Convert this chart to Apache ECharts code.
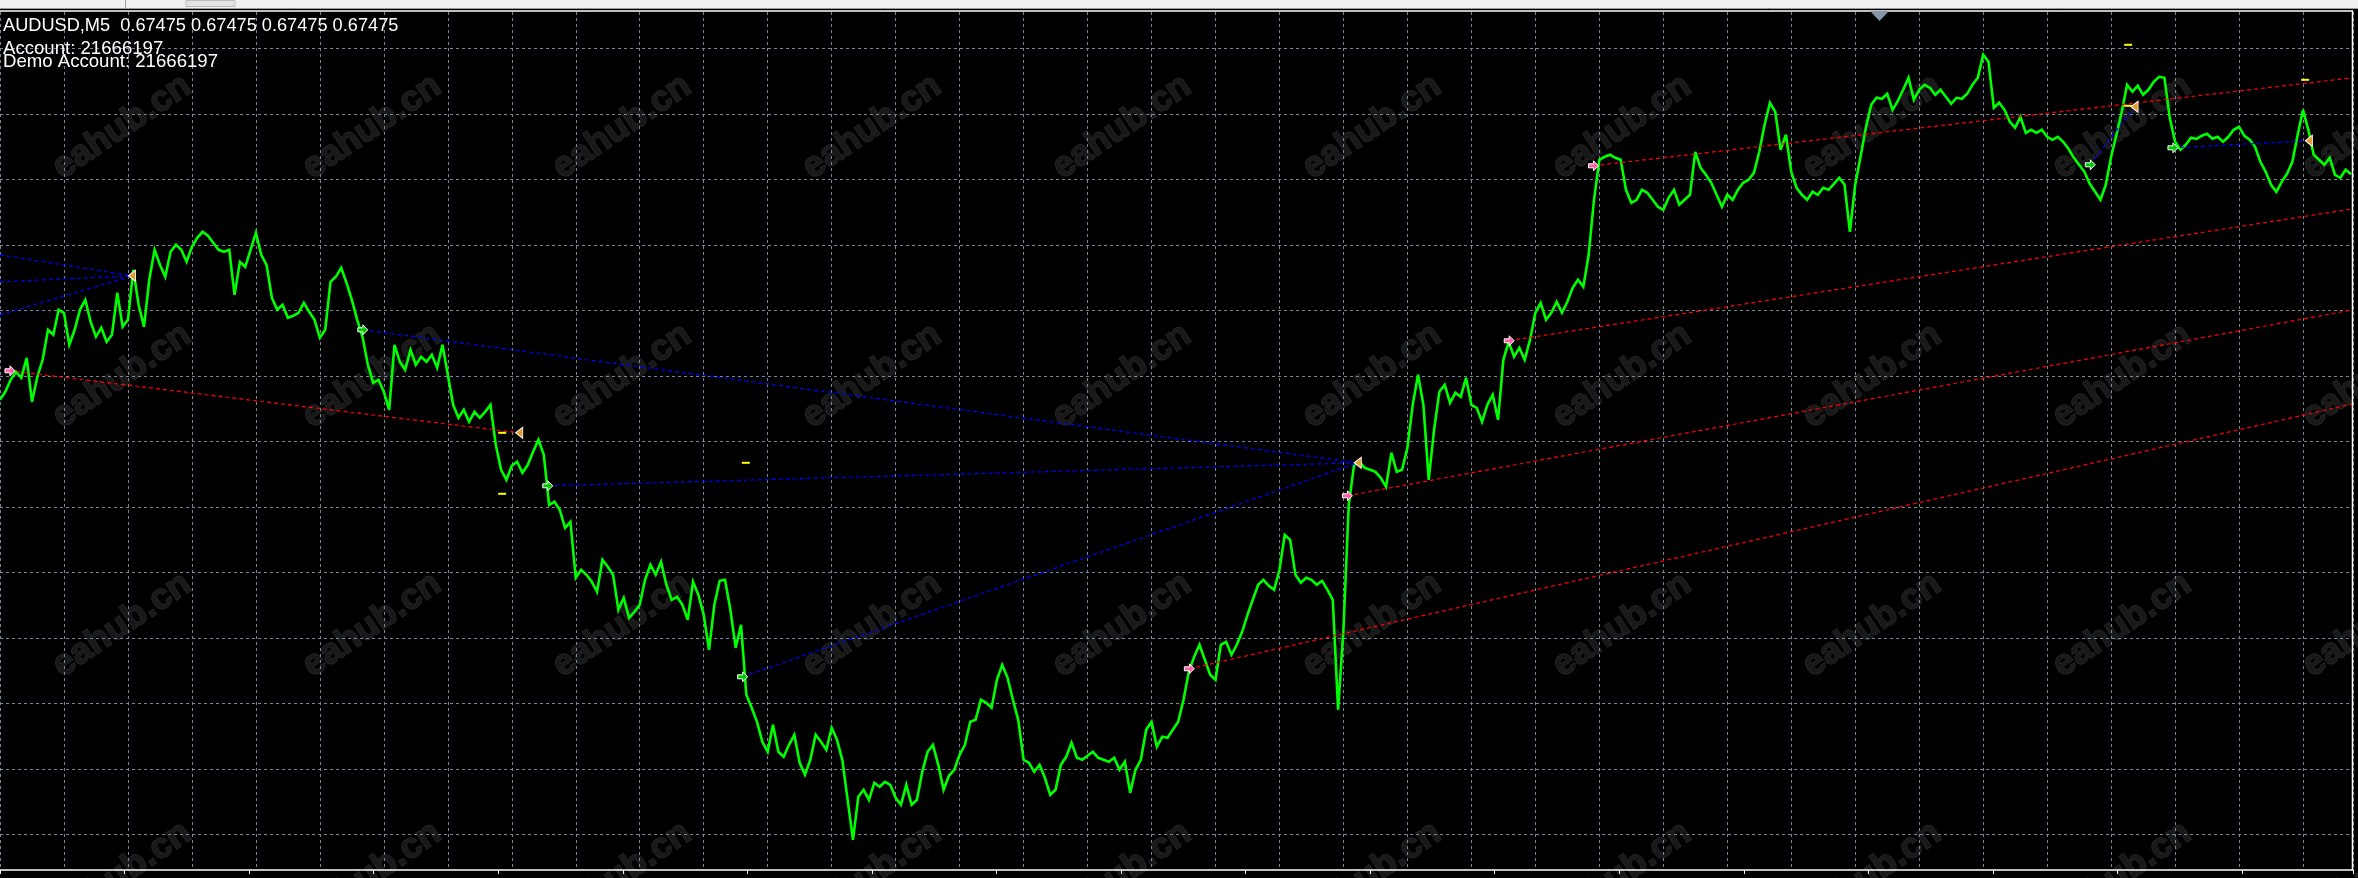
<!DOCTYPE html>
<html><head><meta charset="utf-8">
<script src="https://cdn.jsdelivr.net/npm/echarts@6/dist/echarts.min.js"></script>
<style>html,body{margin:0;padding:0;background:#000;overflow:hidden}#c{width:2358px;height:878px}</style>
</head><body><div id="c"></div>
<script>
// ---------- header texts ----------
const symbolName = 'AUDUSD,M5';
const lastQuote = ['0.67475', '0.67475', '0.67475', '0.67475'];
const accountLines = ['Account: 21666197', 'Demo Account: 21666197'];
const watermarkText = 'eahub.cn';

// ---------- close prices, one per bar (left to right) ----------
const closeA = [0.67024,0.67040,0.67064,0.67080,0.67068,0.67108,0.67020,0.67070,0.67104,0.67164,
0.67154,0.67204,0.67198,0.67134,0.67164,0.67204,0.67224,0.67180,0.67150,0.67168,
0.67140,0.67154,0.67238,0.67170,0.67184,0.67284,0.67214,0.67170,0.67264,0.67324,
0.67294,0.67270,0.67320,0.67334,0.67324,0.67300,0.67330,0.67348,0.67360,0.67352,
0.67338,0.67324,0.67320,0.67324,0.67234,0.67300,0.67290,0.67324,0.67358,0.67314,
0.67294,0.67228,0.67204,0.67214,0.67188,0.67192,0.67198,0.67218,0.67200,0.67184,
0.67148,0.67164,0.67260,0.67270,0.67288,0.67258,0.67224,0.67184,0.67150,0.67094,
0.67058,0.67064,0.67040,0.67004];
const closeB = [0.67134,0.67100,0.67084,0.67124,0.67094,0.67110,0.67100,0.67114,0.67088,0.67134,
0.67074,0.67014,0.66988,0.67004,0.66980,0.67000,0.66988,0.67000,0.67014,0.66934,
0.66884,0.66864,0.66892,0.66900,0.66878,0.66894,0.66920,0.66944,0.66914,0.66814,
0.66820,0.66804,0.66768,0.66780,0.66668,0.66684,0.66674,0.66660,0.66640,0.66704,
0.66690,0.66674,0.66604,0.66628,0.66588,0.66600,0.66614,0.66664,0.66694,0.66674,
0.66700,0.66654,0.66624,0.66630,0.66614,0.66584,0.66660,0.66634,0.66594,0.66524,
0.66614,0.66662,0.66664,0.66604,0.66528,0.66574,0.66434,0.66408,0.66380,0.66340,
0.66320,0.66374,0.66320,0.66310];
const closeC = [0.66334,0.66354,0.66298,0.66274,0.66304,0.66354,0.66340,0.66324,0.66368,0.66344,
0.66304,0.66224,0.66144,0.66230,0.66244,0.66224,0.66258,0.66250,0.66260,0.66254,
0.66228,0.66214,0.66254,0.66214,0.66224,0.66280,0.66320,0.66334,0.66294,0.66244,
0.66272,0.66284,0.66314,0.66334,0.66380,0.66384,0.66424,0.66418,0.66408,0.66464,
0.66494,0.66468,0.66424,0.66384,0.66304,0.66298,0.66280,0.66294,0.66268,0.66234,
0.66244,0.66294,0.66310,0.66338,0.66308,0.66304,0.66312,0.66320,0.66308,0.66304,
0.66300,0.66308,0.66284,0.66300,0.66238,0.66284,0.66304,0.66364,0.66380,0.66330,
0.66350,0.66348,0.66364,0.66380];
const closeD = [0.66424,0.66480,0.66510,0.66534,0.66504,0.66474,0.66464,0.66534,0.66540,0.66514,
0.66534,0.66560,0.66594,0.66624,0.66654,0.66664,0.66652,0.66644,0.66684,0.66754,
0.66744,0.66674,0.66658,0.66668,0.66664,0.66654,0.66662,0.66644,0.66624,0.66404,
0.66564,0.66814,0.66894,0.66900,0.66888,0.66884,0.66880,0.66868,0.66850,0.66918,
0.66880,0.66884,0.66928,0.67014,0.67074,0.67014,0.66864,0.66964,0.67040,0.67054,
0.67018,0.67038,0.67030,0.67068,0.67014,0.67008,0.66980,0.67014,0.67034,0.66984,
0.67104,0.67140,0.67110,0.67128,0.67104,0.67144,0.67198,0.67218,0.67184,0.67198,
0.67220,0.67198,0.67220,0.67248];
const closeE = [0.67264,0.67250,0.67314,0.67424,0.67504,0.67510,0.67514,0.67508,0.67504,0.67444,
0.67418,0.67424,0.67444,0.67438,0.67424,0.67410,0.67404,0.67428,0.67444,0.67414,
0.67424,0.67434,0.67520,0.67488,0.67474,0.67458,0.67434,0.67410,0.67434,0.67424,
0.67444,0.67458,0.67464,0.67478,0.67520,0.67574,0.67618,0.67600,0.67524,0.67554,
0.67480,0.67448,0.67434,0.67424,0.67440,0.67434,0.67448,0.67444,0.67456,0.67468,
0.67454,0.67360,0.67454,0.67510,0.67568,0.67614,0.67628,0.67626,0.67636,0.67604,
0.67622,0.67644,0.67668,0.67624,0.67644,0.67654,0.67648,0.67634,0.67644,0.67630,
0.67616,0.67628,0.67626,0.67636];
const closeF = [0.67654,0.67668,0.67714,0.67700,0.67608,0.67618,0.67604,0.67580,0.67568,0.67590,
0.67558,0.67564,0.67558,0.67564,0.67550,0.67544,0.67550,0.67540,0.67526,0.67508,
0.67494,0.67480,0.67456,0.67440,0.67424,0.67454,0.67510,0.67554,0.67600,0.67654,
0.67640,0.67652,0.67634,0.67644,0.67660,0.67670,0.67668,0.67588,0.67540,0.67524,
0.67534,0.67548,0.67546,0.67552,0.67556,0.67546,0.67550,0.67540,0.67550,0.67564,
0.67570,0.67552,0.67544,0.67530,0.67500,0.67480,0.67454,0.67440,0.67460,0.67476,
0.67500,0.67554,0.67604,0.67564,0.67514,0.67504,0.67494,0.67508,0.67474,0.67468,
0.67484,0.67475];

// ---------- objects: [barIndex, price] ----------
const blueTrendLines = [
  [[0, 0.67314], [24.75, 0.67272]],
  [[0, 0.67260], [24.75, 0.67272]],
  [[0, 0.67194], [24.75, 0.67272]],
  [[68.06, 0.67164], [254.7, 0.66898]],
  [[102.75, 0.66852], [254.7, 0.66898]],
  [[139.3, 0.66470], [254.7, 0.66898]],
  [[392.1, 0.67494], [400.4, 0.67610]],
  [[407.6, 0.67528], [433.1, 0.67542]]
];
const redTrendLines = [
  [[1.875, 0.67082], [97.4, 0.66958]],
  [[223.1, 0.66486], [441.375, 0.67016]],
  [[252.75, 0.66832], [441.375, 0.67204]],
  [[283.1, 0.67142], [441.375, 0.67406]],
  [[298.9, 0.67492], [441.375, 0.67668]]
];
const pinkArrows = [[1.875, 0.67082], [223.1, 0.66486], [252.75, 0.66832], [283.1, 0.67142], [298.9, 0.67492]];
const greenArrows = [[68.06, 0.67164], [102.75, 0.66852], [139.3, 0.66470], [392.1, 0.67494], [407.6, 0.67528]];
const closeTriangles = [[24.75, 0.67272], [97.4, 0.66958], [254.7, 0.66898], [400.4, 0.67610], [433.1, 0.67542]];
const yellowLevels = [[94.2, 0.66958], [94.2, 0.66836], [139.9, 0.66898], [399.2, 0.67734], [432.4, 0.67664], [399.2, 0.67612]];

// ---------- axis config ----------
const X_MAX = 441.375, X_INT = 12;
const Y_MIN = 0.66155, Y_INT = 0.00131, Y_MAX = 0.67727;

const closes = [].concat(closeA, closeB, closeC, closeD, closeE, closeF);
const priceData = closes.map((v, i) => [i, v]);

const chart = echarts.init(document.getElementById('c'), null, {renderer: 'canvas', width: 2358, height: 878});
const gridLine = {color: '#778899', width: 1, type: [3, 3]};

const series = [{
  type: 'line', xAxisIndex: 0, yAxisIndex: 0, data: priceData, showSymbol: false, symbol: 'none',
  clip: false, z: 2, lineStyle: {color: '#00ff00', width: 2.6, join: 'miter', miterLimit: 4}
}];
blueTrendLines.forEach(seg => series.push({
  type: 'line', xAxisIndex: 0, yAxisIndex: 0, data: seg, symbol: 'none', clip: false, z: 3,
  lineStyle: {color: '#0000ff', width: 1.2, type: [4, 3]}
}));
redTrendLines.forEach(seg => series.push({
  type: 'line', xAxisIndex: 0, yAxisIndex: 0, data: seg, symbol: 'none', clip: false, z: 3,
  lineStyle: {color: '#ff0000', width: 1.2, type: [4, 3]}
}));
const arrowPath = 'path://M0,3L5,3L5,0L10,5L5,10L5,7L0,7Z';
series.push({type: 'scatter', xAxisIndex: 0, yAxisIndex: 0, data: pinkArrows, symbol: arrowPath, symbolSize: [10, 10], z: 5, clip: false,
  itemStyle: {color: '#ff5fa8', borderColor: '#ffffff', borderWidth: 1, opacity: 1}});
series.push({type: 'scatter', xAxisIndex: 0, yAxisIndex: 0, data: greenArrows, symbol: arrowPath, symbolSize: [10, 10], z: 5, clip: false,
  itemStyle: {color: '#00c800', borderColor: '#ffffff', borderWidth: 1, opacity: 1}});
series.push({type: 'scatter', xAxisIndex: 0, yAxisIndex: 0, data: closeTriangles, symbol: 'path://M10,0L0,5L10,10Z', symbolSize: [7, 11], z: 5, clip: false,
  itemStyle: {color: '#e39a2d', borderColor: '#ffffff', borderWidth: 1, opacity: 1}});
series.push({type: 'scatter', xAxisIndex: 0, yAxisIndex: 0, data: yellowLevels, symbol: 'rect', symbolSize: [8, 2], z: 5, clip: false,
  itemStyle: {color: '#ffff00', opacity: 1}});

const graphics = [];
// watermarks
for (let r = 0; r < 4; r++) for (let c = 0; c < 10; c++) {
  graphics.push({type: 'text', x: 122 + 250 * c, y: 127 + 249 * r, rotation: 0.593, z: 0, zlevel: 0, silent: true,
    style: {text: watermarkText, fill: '#191919', stroke: '#272727', lineWidth: 1.5,
      font: 'bold 36px "Liberation Sans"', align: 'center', verticalAlign: 'middle', textAlign: 'center', textVerticalAlign: 'middle'}});
}
// window chrome & borders
graphics.push({type: 'rect', z: 50, shape: {x: 0, y: 0, width: 2358, height: 8}, style: {fill: '#f0f0f0'}});
graphics.push({type: 'line', z: 51, shape: {x1: 0, y1: 8.5, x2: 2358, y2: 8.5}, style: {stroke: '#9a9a9a', lineWidth: 1}});
graphics.push({type: 'line', z: 51, shape: {x1: 125.5, y1: 0, x2: 125.5, y2: 8}, style: {stroke: '#a0a0a0', lineWidth: 1}});
graphics.push({type: 'rect', z: 51, shape: {x: 186, y: 0.5, width: 49, height: 6}, style: {fill: '#e2e2e2', stroke: '#bdbdbd', lineWidth: 1}});
graphics.push({type: 'line', z: 51, shape: {x1: 0, y1: 11, x2: 2353, y2: 11}, style: {stroke: '#ffffff', lineWidth: 1.5}});
graphics.push({type: 'line', z: 51, shape: {x1: 2352.5, y1: 10.5, x2: 2352.5, y2: 870.5}, style: {stroke: '#ffffff', lineWidth: 1.5}});
graphics.push({type: 'polygon', z: 52, shape: {points: [[1870, 11], [1889, 11], [1879.5, 21]]}, style: {fill: '#8696a6'}});
// header texts
graphics.push({type: 'text', z: 60, x: 3, y: 25.5, style: {text: symbolName + '  ' + lastQuote.join(' '), fill: '#ffffff',
  font: '18.2px "Liberation Sans"', verticalAlign: 'middle', textVerticalAlign: 'middle'}});
graphics.push({type: 'text', z: 60, x: 3, y: 48.8, style: {text: accountLines[0], fill: '#ffffff',
  font: '18.6px "Liberation Sans"', verticalAlign: 'middle', textVerticalAlign: 'middle'}});
graphics.push({type: 'text', z: 60, x: 3, y: 62.1, style: {text: accountLines[1], fill: '#ffffff',
  font: '18.6px "Liberation Sans"', verticalAlign: 'middle', textVerticalAlign: 'middle'}});

chart.setOption({
  backgroundColor: '#000000',
  animation: false,
  grid: [
    {left: -1, right: 5, top: 48.3, bottom: 43.7},
    {left: -1, right: 5, top: 12, bottom: 8},
    {left: -65, right: 5, top: 12, bottom: 8}
  ],
  xAxis: [
    {type: 'value', gridIndex: 0, min: 0, max: X_MAX, interval: X_INT, show: true,
      axisLine: {show: false}, axisTick: {show: false}, axisLabel: {show: false}, splitLine: {show: false}},
    {type: 'value', gridIndex: 1, min: 0, max: X_MAX, interval: X_INT,
      axisLine: {show: false}, axisTick: {show: false}, axisLabel: {show: false}, splitLine: {show: true, lineStyle: gridLine}},
    {type: 'value', gridIndex: 2, min: -12, max: X_MAX, interval: 24, position: 'bottom',
      axisLine: {show: true, onZero: false, lineStyle: {color: '#ffffff', width: 1.5}},
      axisTick: {show: true, inside: false, length: 4, lineStyle: {color: '#ffffff', width: 1}},
      axisLabel: {show: false}, splitLine: {show: false}}
  ],
  yAxis: [
    {type: 'value', gridIndex: 0, min: Y_MIN, max: Y_MAX, interval: Y_INT, scale: true,
      axisLine: {show: false}, axisTick: {show: false}, axisLabel: {show: false}, splitLine: {show: true, lineStyle: gridLine}},
    {type: 'value', gridIndex: 1, min: 0, max: 1, show: false, splitLine: {show: false}},
    {type: 'value', gridIndex: 2, min: 0, max: 1, show: false, splitLine: {show: false}}
  ],
  graphic: {elements: graphics},
  series: series
});
</script>
</body></html>
